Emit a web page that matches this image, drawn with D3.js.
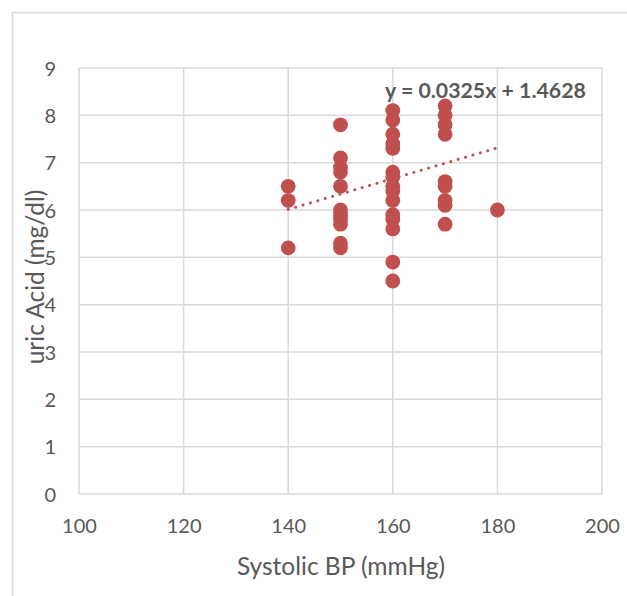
<!DOCTYPE html>
<html>
<head>
<meta charset="utf-8">
<script src="https://cdnjs.cloudflare.com/ajax/libs/d3/7.8.5/d3.min.js"></script>
<style>
  body { margin: 0; background: #fff; }
  svg text { font-family: Lato, "Open Sans", sans-serif; fill: #595959; }
</style>
</head>
<body>
<div id="chart"></div>
<script>
// systolic BP of each patient
var bp = [140, 140, 140,
    150, 150, 150, 150, 150, 150, 150, 150, 150, 150, 150,
    160, 160, 160, 160, 160, 160, 160, 160, 160, 160, 160, 160, 160, 160, 160,
    170, 170, 170, 170, 170, 170, 170, 170, 170,
    180];
// uric acid, same order
var uric = [6.5, 6.2, 5.2,
    7.8, 7.1, 6.9, 6.8, 6.5, 6.0, 5.9, 5.8, 5.7, 5.3, 5.2,
    8.1, 7.9, 7.6, 7.4, 7.3, 6.8, 6.7, 6.5, 6.4, 6.2, 5.9, 5.8, 5.6, 4.9, 4.5,
    8.2, 8.0, 7.8, 7.6, 6.6, 6.5, 6.2, 6.1, 5.7,
    6.0];
var xTicks = [100, 120, 140, 160, 180, 200];
var yTicks = [0, 1, 2, 3, 4, 5, 6, 7, 8, 9];
var slope = 0.0325, intercept = 1.4628;
var trendRange = [140, 180];
var eqLabel = "y = 0.0325x + 1.4628";

var width = 627, height = 596;
var margin = {top: 68, right: 25, bottom: 102, left: 79};

var svg = d3.select("#chart").append("svg")
    .attr("width", width)
    .attr("height", height);

// chart frame
svg.append("path")
    .attr("d", "M12.5," + height + "V12.5H" + width)
    .attr("fill", "none")
    .attr("stroke", "#d9d9d9")
    .attr("stroke-width", 1.5);

var x = d3.scaleLinear().domain([100, 200]).range([margin.left, width - margin.right]);
var y = d3.scaleLinear().domain([0, 9]).range([height - margin.bottom, margin.top]);

var g = svg.append("g");

// gridlines
g.selectAll(".vg").data(xTicks).enter().append("line")
    .attr("x1", function(d){ return x(d); })
    .attr("x2", function(d){ return x(d); })
    .attr("y1", y(0)).attr("y2", y(9))
    .attr("stroke", "#d9d9d9").attr("stroke-width", 1.5);
g.selectAll(".hg").data(yTicks).enter().append("line")
    .attr("y1", function(d){ return y(d); })
    .attr("y2", function(d){ return y(d); })
    .attr("x1", x(100)).attr("x2", x(200))
    .attr("stroke", "#d9d9d9").attr("stroke-width", 1.5);

// axes (labels only)
var xAxis = svg.append("g")
    .attr("transform", "translate(0," + y(0) + ")")
    .call(d3.axisBottom(x).tickValues(xTicks).tickSize(0).tickPadding(25));
var yAxis = svg.append("g")
    .attr("transform", "translate(" + x(100) + ",0)")
    .call(d3.axisLeft(y).tickValues(yTicks).tickSize(0).tickPadding(23));
[xAxis, yAxis].forEach(function(a){
    a.select(".domain").remove();
    a.selectAll("text").style("font-size", "20px").attr("fill", "#595959")
        .style("font-family", "Lato, 'Open Sans', sans-serif");
});
xAxis.selectAll("line").remove();
yAxis.selectAll("text").attr("dy", "0.35em");

// points
svg.selectAll(".pt").data(bp).enter().append("circle")
    .attr("cx", function(d){ return x(d); })
    .attr("cy", function(d, i){ return y(uric[i]); })
    .attr("r", 7.4)
    .attr("fill", "#c0504d");

// trendline
svg.append("line")
    .attr("x1", x(trendRange[0])).attr("y1", y(slope * trendRange[0] + intercept))
    .attr("x2", x(trendRange[1])).attr("y2", y(slope * trendRange[1] + intercept))
    .attr("stroke", "#c0504d")
    .attr("stroke-width", 3)
    .attr("stroke-linecap", "round")
    .attr("stroke-dasharray", "0.1 7.6");

svg.append("text")
    .attr("x", 385).attr("y", 98)
    .style("font-size", "21.3px").style("font-weight", "bold")
    .text(eqLabel);

// axis titles
svg.append("text")
    .attr("x", 341).attr("y", 575)
    .attr("text-anchor", "middle")
    .style("font-size", "24.5px")
    .text("Systolic BP (mmHg)");
svg.append("text")
    .attr("transform", "translate(44," + 277 + ")rotate(-90)")
    .attr("text-anchor", "middle")
    .style("font-size", "24.5px")
    .text("uric Acid (mg/dl)");
</script>
</body>
</html>
